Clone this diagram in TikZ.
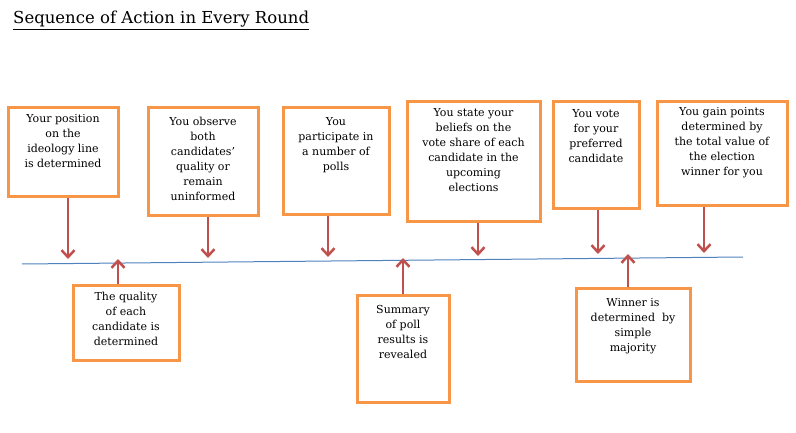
\documentclass[tikz,border=0pt]{standalone}
\usepackage{fontspec}
\setmainfont{DejaVu Serif}
\usetikzlibrary{arrows.meta}
\definecolor{boxorange}{RGB}{247,150,70}
\definecolor{arrred}{RGB}{192,80,77}
\definecolor{lineblue}{RGB}{79,129,189}
\begin{document}
\begin{tikzpicture}[x=1pt,y=-1pt,
  box/.style={draw=boxorange,line width=3pt,rectangle,inner sep=0pt},
  txt/.style={anchor=north,align=center,inner sep=0pt,font=\fontsize{11}{15}\selectfont},
  arr/.style={draw=arrred,line width=2.5pt,-{Straight Barb[length=7pt,width=13pt]}}]
\useasboundingbox (0,0) rectangle (796,433);
\node[anchor=base west,inner sep=0pt,font=\fontsize{16.5}{18}\selectfont] (title) at (13,24) {\underline{Sequence of Action in Every Round}};
% timeline
\coordinate (L1) at (22,264);
\coordinate (L2) at (743,257);
\draw[lineblue,line width=1pt] (L1) -- (L2);
% top boxes
\node[box,minimum width=110,minimum height=89] (b1) at (63,152.5) {};
\node[box,minimum width=110,minimum height=108] (b2) at (203,162) {};
\node[box,minimum width=106,minimum height=107] (b3) at (336,161.5) {};
\node[box,minimum width=133,minimum height=120] (b4) at (473.5,162) {};
\node[box,minimum width=86,minimum height=107] (b5) at (596,155.5) {};
\node[box,minimum width=130,minimum height=104] (b6) at (722,154) {};
% bottom boxes
\node[box,minimum width=106,minimum height=75] (c1) at (126,322.5) {};
\node[box,minimum width=92,minimum height=107] (c2) at (403,348.5) {};
\node[box,minimum width=114,minimum height=93] (c3) at (633,334.5) {};
% texts
\node[txt] (b1t) at ([yshift=-8]b1.north) {Your position\\on the\\ideology line\\is determined};
\node[txt] (b2t) at ([yshift=-10]b2.north) {You observe\\both\\candidates’\\quality or\\remain\\uninformed};
\node[txt] (b3t) at ([yshift=-11]b3.north) {You\\participate in\\a number of\\polls};
\node[txt] (b4t) at ([yshift=-8]b4.north) {You state your\\beliefs on the\\vote share of each\\candidate in the\\upcoming\\elections};
\node[txt] (b5t) at ([yshift=-9]b5.north) {You vote\\for your\\preferred\\candidate};
\node[txt] (b6t) at ([yshift=-7]b6.north) {You gain points\\determined by\\the total value of\\the election\\winner for you};
\node[txt] (c1t) at ([yshift=-8]c1.north) {The quality\\of each\\candidate is\\determined};
\node[txt] (c2t) at ([yshift=-12]c2.north) {Summary\\of poll\\results is\\revealed};
\node[txt] (c3t) at ([yshift=-12]c3.north) {Winner is\\determined~ by\\simple\\majority};
% arrow tip coordinates
\coordinate (t1) at (68,259);
\coordinate (t2) at (208,258);
\coordinate (t3) at (328,257);
\coordinate (t4) at (478,256);
\coordinate (t5) at (598,254);
\coordinate (t6) at (704,253);
\coordinate (u1) at (118,259);
\coordinate (u2) at (403,258);
\coordinate (u3) at (628,254);
\draw[arr] (b1.south -| t1) -- (t1);
\draw[arr] (b2.south -| t2) -- (t2);
\draw[arr] (b3.south -| t3) -- (t3);
\draw[arr] (b4.south -| t4) -- (t4);
\draw[arr] (b5.south -| t5) -- (t5);
\draw[arr] (b6.south -| t6) -- (t6);
\draw[arr] (c1.north -| u1) -- (u1);
\draw[arr] (c2.north -| u2) -- (u2);
\draw[arr] (c3.north -| u3) -- (u3);
\end{tikzpicture}
\end{document}
